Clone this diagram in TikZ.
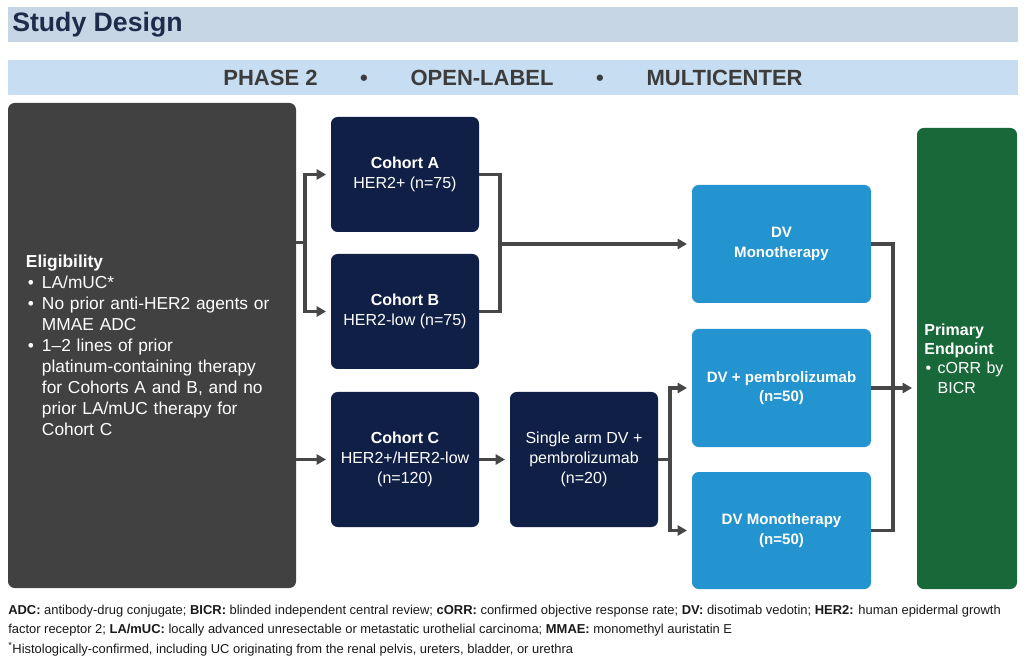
\documentclass[tikz,border=0pt]{standalone}
\usepackage{fontspec}
\setmainfont{Liberation Sans}
\usetikzlibrary{arrows.meta}
\definecolor{titlebg}{HTML}{C7D6E5}
\definecolor{phasebg}{HTML}{C6DDF2}
\definecolor{titletext}{HTML}{1F2B4A}
\definecolor{phasetext}{HTML}{3C3C3C}
\definecolor{eliggray}{HTML}{414141}
\definecolor{navy}{HTML}{101F45}
\definecolor{armblue}{HTML}{2394CF}
\definecolor{endgreen}{HTML}{19683A}
\definecolor{linegray}{HTML}{474747}
\begin{document}
\begin{tikzpicture}[x=0.75pt,y=-0.75pt,
  bar/.style={fill=#1, draw=none, minimum width=757.5pt, minimum height=26.25pt, inner sep=0pt},
  box/.style={fill=#1, draw=none, rounded corners=5pt, text=white, align=center, inner sep=2pt},
  cohort/.style={box=navy, minimum width=111pt, font=\fontsize{12}{15}\selectfont},
  arm/.style={box=armblue, minimum width=134.25pt, minimum height=88.5pt, font=\bfseries\fontsize{11.3}{14.5}\selectfont},
  conn/.style={draw=linegray, line width=2.3pt},
  arr/.style={conn, -{Triangle[length=7pt,width=7.5pt]}, shorten >=3.5pt},
  foot/.style={anchor=base west, inner sep=0pt, align=left, text=black!90, font=\fontsize{9.7}{14.25}\selectfont}
]
\useasboundingbox[fill=white] (0,0) rectangle (1028,666);

% header bars
\node[bar=titlebg] (titlebar) at (513,25) {};
\node[anchor=base west, inner sep=0pt, text=titletext, font=\bfseries\fontsize{20}{24}\selectfont]
  (title) at (12,32) {Study Design};
\node[bar=phasebg, text=phasetext, font=\bfseries\fontsize{16.5}{20}\selectfont]
  (phase) at (513,78) {PHASE 2\hspace{32pt}\textbullet\hspace{32pt}OPEN-LABEL\hspace{32pt}\textbullet\hspace{32pt}MULTICENTER};

% eligibility
\node[box=eliggray, minimum width=216pt, minimum height=363.75pt, text width=189pt,
      inner xsep=13.5pt, align=left, font=\fontsize{13}{15.75}\selectfont] (elig) at (152,345.5)
{\textbf{Eligibility}\\
\makebox[12pt][l]{\hspace{1.5pt}\textbullet}LA/mUC*\\
\makebox[12pt][l]{\hspace{1.5pt}\textbullet}No prior anti-HER2 agents or\\
\hspace*{12pt}MMAE ADC\\
\makebox[12pt][l]{\hspace{1.5pt}\textbullet}1--2 lines of prior\\
\hspace*{12pt}platinum-containing therapy\\
\hspace*{12pt}for Cohorts A and B, and no\\
\hspace*{12pt}prior LA/mUC therapy for\\
\hspace*{12pt}Cohort C};

% cohorts
\node[cohort, minimum height=86.25pt] (cohA) at (405,174.5) {\textbf{Cohort A}\\HER2+ (n=75)};
\node[cohort, minimum height=86.25pt] (cohB) at (405,311.5) {\textbf{Cohort B}\\HER2-low (n=75)};
\node[cohort, minimum height=101.25pt] (cohC) at (405,459.5) {\textbf{Cohort C}\\HER2+/HER2-low\\(n=120)};
\node[cohort, minimum height=101.25pt] (single) at (584,459.5) {Single arm DV +\\pembrolizumab\\(n=20)};

% arms
\node[arm] (dv1) at (781.5,244) {DV\\Monotherapy};
\node[arm] (dv2) at (781.5,388) {DV + pembrolizumab\\(n=50)};
\node[arm, minimum height=87.75pt] (dv3) at (781.5,530.5) {DV Monotherapy\\(n=50)};

% endpoint
\node[box=endgreen, minimum width=75pt, minimum height=345.75pt, text width=64pt,
      inner xsep=5.5pt, align=left, font=\fontsize{12}{14.6}\selectfont] (prim) at (967,358.5)
{\textbf{Primary}\\\textbf{Endpoint}\\
\makebox[10pt][l]{\hspace{1pt}\textbullet}cORR by\\
\hspace*{10pt}BICR};

% connectors
\coordinate (j1) at (305,242.5);
\coordinate (j2) at (500,244);
\coordinate (j3) at (670,459.5);
\coordinate (j4) at (893,388);

\draw[conn] (elig.east |- j1) -- (j1);
\draw[arr] (j1) |- (cohA.west);
\draw[arr] (j1) |- (cohB.west);
\draw[arr] (elig.east |- cohC) -- (cohC.west);

\draw[conn] (cohA.east) -| (j2) |- (cohB.east);
\draw[arr] (j2) -- (dv1.west);

\draw[arr] (cohC.east) -- (single.west);

\draw[conn] (single.east) -- (j3);
\draw[arr] (j3) |- (dv2.west);
\draw[arr] (j3) |- (dv3.west);

\draw[conn] (dv1.east) -| (j4) |- (dv3.east);
\draw[arr] (dv2.east) -- (prim.west |- dv2);

% footnotes
\node[foot] (abbr) at (8,633) {\textbf{ADC:} antibody-drug conjugate; \textbf{BICR:} blinded independent central review; \textbf{cORR:} confirmed objective response rate; \textbf{DV:} disotimab vedotin; \textbf{HER2:} human epidermal growth\\
factor receptor 2; \textbf{LA/mUC:} locally advanced unresectable or metastatic urothelial carcinoma; \textbf{MMAE:} monomethyl auristatin E};
\node[foot] (note) at (8,653) {\textsuperscript{*}Histologically-confirmed, including UC originating from the renal pelvis, ureters, bladder, or urethra};
\end{tikzpicture}
\end{document}
